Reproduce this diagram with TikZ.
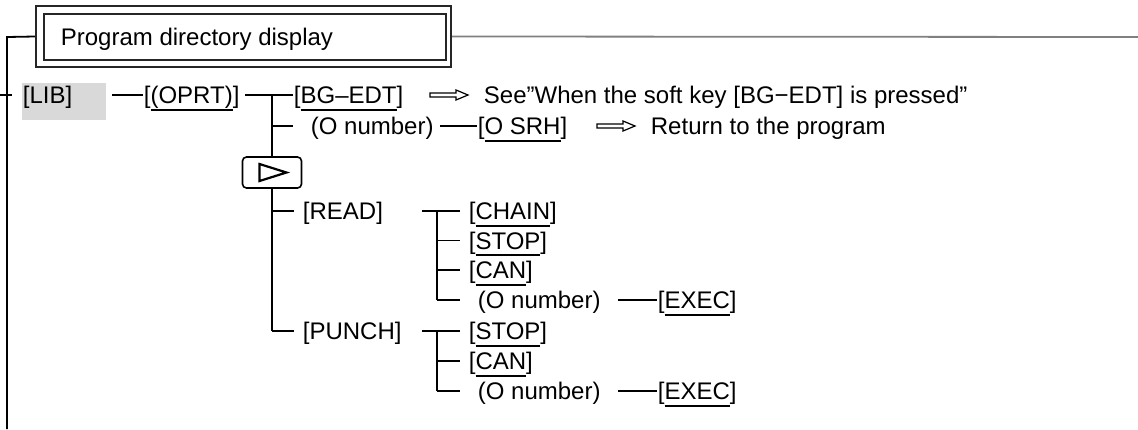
\documentclass[tikz,border=0pt]{standalone}
\usepackage{fontspec}
\setmainfont{Liberation Sans}
\usetikzlibrary{positioning,calc}

\newcommand\keyul[1]{\setbox0\hbox{#1}\rlap{\rule[-3.6pt]{\wd0}{1pt}}\box0}

\tikzset{
  pressarrow/.pic={\draw[line width=0.6pt,line join=miter] (0,-2) -- (26,-2) -- (26,-5) -- (38,0) -- (26,5) -- (26,2) -- (0,2) -- cycle;}
}

\begin{document}
\begin{tikzpicture}[x=0.5pt,y=-0.5pt,line width=0.9pt,
  every node/.style={font=\fontsize{12}{14}\selectfont},
  key/.style={anchor=west,inner sep=0pt,text height=8.6pt,text depth=0pt},
  tick/.style={shorten >=4pt},
  tickon/.style={shorten >=8.5pt}]
\useasboundingbox (0,0) rectangle (1138,429);

\node[draw=black!85,line width=1.1pt,minimum width=207.5pt,minimum height=30.5pt,inner sep=0pt] (frame) at (243.5,36.5) {};
\node[draw=black!85,line width=0.7pt,minimum width=201pt,minimum height=23pt,inner sep=0pt] (title) at (245,37) {};
\node[key] (titletext) at (60,37) {Program directory display};
\coordinate (lt) at (7,37); \coordinate (lb) at (7,429); \coordinate (rt) at (1138,37);
\draw (frame.west) -- (lt) -- (lb);
\draw[black!50] (frame.east) -- (rt);

\node[fill=black!15,minimum width=42pt,minimum height=18.5pt,inner sep=0pt,anchor=north west] (libbox) at (21,82) {};
\coordinate (lt1) at (0,95); \coordinate (lt2) at (12,95);
\draw (lt1) -- (lt2);
\node[key] (lib) at (22,95) {[LIB]};

\coordinate (oprtin) at (112,95);
\node[key] (oprt) at (143,95) {[\keyul{(OPRT)}]};
\draw (oprtin) -- (oprt);

\coordinate (bgin) at (245,95); \coordinate (j1) at (272,95);
\node[key] (bg) at (293,95) {[\keyul{BG\textendash EDT}]};
\draw (bgin) -- (bg);
\pic at (430,95) {pressarrow};
\node[key] (seenote) at (483,95) {See”When the soft key [BG−EDT] is pressed”};

\node[key] (onum) at (310,126) {(O number)};
\draw[tickon] (j1 |- onum) -- (onum);
\coordinate (srhin) at (440,126);
\node[key] (srh) at (477,126) {[\keyul{O SRH}]};
\draw (srhin) -- (srh);
\pic at (597,126) {pressarrow};
\node[key] (ret) at (650,126) {Return to the program};

\node[draw,fill=white,rounded corners=2pt,minimum width=29.5pt,minimum height=15.5pt,inner sep=0pt,line width=0.8pt] (next) at (272,172.5) {};
\draw[line width=1.1pt,line join=miter] ([xshift=-6.25pt,yshift=4.25pt]next.center) -- ([xshift=7.25pt]next.center) -- ([xshift=-6.25pt,yshift=-4.25pt]next.center) -- cycle;
\draw (j1) -- (next);

\node[key] (read) at (302,211) {[READ]};
\node[key] (punch) at (302,331) {[PUNCH]};
\coordinate (pc) at (272,331);
\draw (next) -- (pc);
\draw[tick] (pc |- read) -- (read);
\draw[tick] (pc) -- (punch);

\node[key] (chain) at (468,211) {[\keyul{CHAIN}]};
\node[key] (stopa) at (468,240.5) {[\keyul{STOP}]};
\node[key] (cana) at (468,270) {[\keyul{CAN}]};
\node[key] (onuma) at (477,300) {(O number)};
\coordinate (rdin) at (422,211); \coordinate (rdv) at (437,211);
\draw[tick] (rdin) -- (chain);
\draw (rdv) -- (rdv |- onuma);
\draw[tick] (rdv |- stopa) -- (stopa);
\draw[tick] (rdv |- cana) -- (cana);
\draw[tickon] (rdv |- onuma) -- (onuma);
\coordinate (exaina) at (618,300);
\node[key] (execa) at (657,300) {[\keyul{EXEC}]};
\draw (exaina) -- (execa);

\node[key] (stopb) at (468,331) {[\keyul{STOP}]};
\node[key] (canb) at (468,361) {[\keyul{CAN}]};
\node[key] (onumb) at (477,391) {(O number)};
\coordinate (pnin) at (422,331); \coordinate (pnv) at (437,331);
\draw[tick] (pnin) -- (stopb);
\draw (pnv) -- (pnv |- onumb);
\draw[tick] (pnv |- canb) -- (canb);
\draw[tickon] (pnv |- onumb) -- (onumb);
\coordinate (exainb) at (618,391);
\node[key] (execb) at (657,391) {[\keyul{EXEC}]};
\draw (exainb) -- (execb);
\end{tikzpicture}
\end{document}
